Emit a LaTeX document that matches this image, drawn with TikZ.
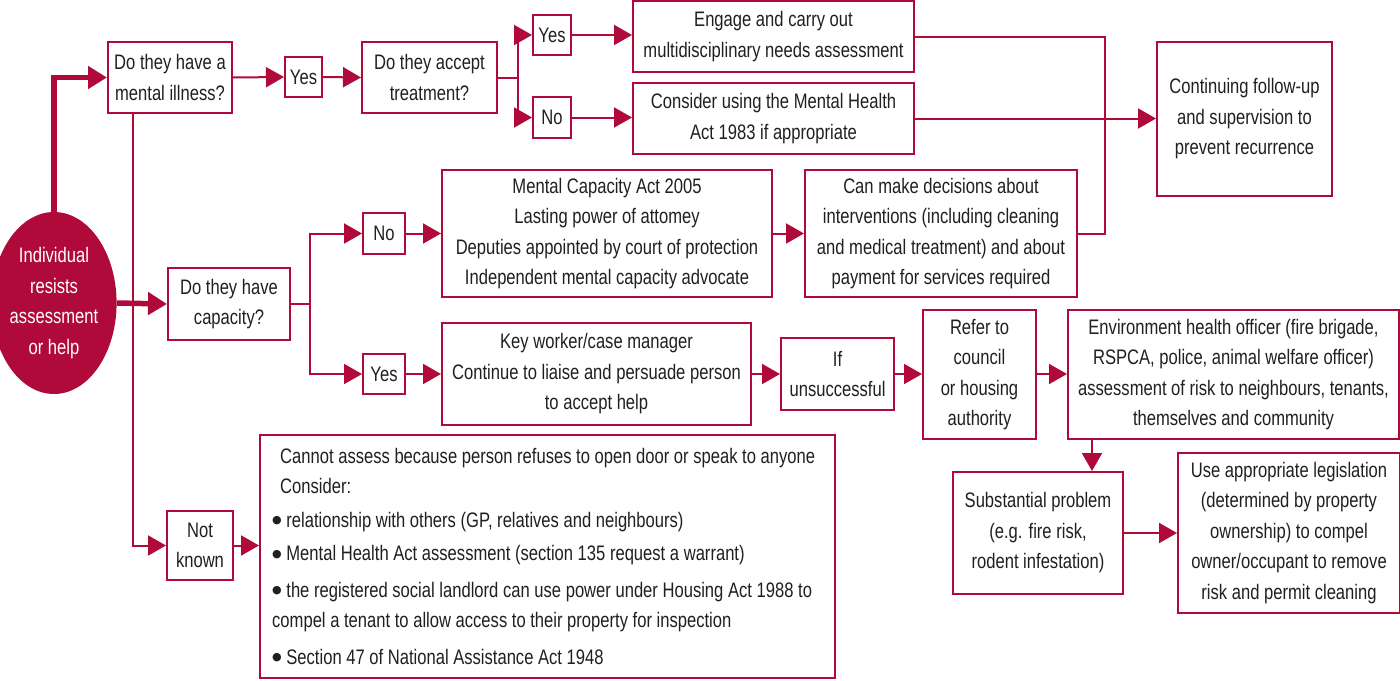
\documentclass[tikz,border=0pt]{standalone}
\usepackage{fontspec}
\setmainfont{Liberation Sans}[FakeStretch=0.79]
\newfontfamily\bulfont{DejaVu Sans}
\usetikzlibrary{arrows.meta,shapes.geometric}
\definecolor{crim}{HTML}{B00A3B}
\definecolor{ink}{HTML}{231F20}
\newcommand{\bul}{{\bulfont\fontsize{11}{30.5}\selectfont\raisebox{0.32em}{●}}}
\begin{document}
\begin{tikzpicture}[x=1pt,y=-1pt,
  txtfont/.style={font=\fontsize{21}{30.5}\selectfont, text=ink},
  box/.style={draw=crim, line width=2pt, fill=white, inner sep=0pt, align=center, txtfont},
  plain/.style={draw=crim, line width=2pt},
  conn/.style={draw=crim, line width=2pt, -{Triangle[length=18pt,width=20pt]}},
  bigconn/.style={draw=crim, line width=5.5pt, -{Triangle[length=19pt,width=22pt]}},
  startnode/.style={ellipse, fill=crim, draw=none, inner sep=0pt, align=center,
     font=\fontsize{21}{30.5}\selectfont, text=white}
]
\useasboundingbox (0,0) rectangle (1400,680);

% start
\node[startnode, minimum width=108, minimum height=182] (start) at (54,303)
  {Individual\\resists\\assessment\\or help};

% top branch
\node[box, minimum width=124, minimum height=71] (illness) at (170,77.5) {Do they have a\\mental illness?};
\node[box, minimum width=37, minimum height=40] (yes1) at (303.5,77) {Yes};
\node[box, minimum width=135, minimum height=71] (accept) at (429.5,77.5) {Do they accept\\treatment?};
\node[box, minimum width=38, minimum height=40] (yes2) at (552,35) {Yes};
\node[box, minimum width=38, minimum height=41] (no2) at (552,117.5) {No};
\node[box, minimum width=281, minimum height=71] (engage) at (773.5,36.5) {Engage and carry out\\multidisciplinary needs assessment};
\node[box, minimum width=281, minimum height=71] (consider) at (773.5,118.5) {Consider using the Mental Health\\Act 1983 if appropriate};
\node[box, minimum width=175, minimum height=154] (continuing) at (1244.5,119) {Continuing follow-up\\and supervision to\\prevent recurrence};

% middle branch
\node[box, minimum width=122, minimum height=72] (capacity) at (229,304) {Do they have\\capacity?};
\node[box, minimum width=42, minimum height=41] (no3) at (384,233.5) {No};
\node[box, minimum width=42, minimum height=40] (yes3) at (384,374) {Yes};
\node[box, minimum width=330, minimum height=127] (mca) at (607,233.5) {Mental Capacity Act 2005\\Lasting power of attomey\\Deputies appointed by court of protection\\Independent mental capacity advocate};
\node[box, minimum width=272, minimum height=127] (canmake) at (941,233.5) {Can make decisions about\\interventions (including cleaning\\and medical treatment) and about\\payment for services required};
\node[box, minimum width=309, minimum height=102] (keyworker) at (596.5,374) {Key worker/case manager\\Continue to liaise and persuade person\\to accept help};
\node[box, minimum width=113, minimum height=72] (ifun) at (837.5,374) {If\\unsuccessful};
\node[box, minimum width=113, minimum height=129] (refer) at (979.5,374.5) {Refer to\\council\\or housing\\authority};
\node[box, minimum width=331, minimum height=129] (env) at (1233.5,374.5) {Environment health officer (fire brigade,\\RSPCA, police, animal welfare officer)\\assessment of risk to neighbours, tenants,\\themselves and community};
\node[box, minimum width=170, minimum height=122] (subst) at (1038,533) {Substantial problem\\(e.g. fire risk,\\rodent infestation)};
\node[box, minimum width=222, minimum height=160] (uselaw) at (1289,533) {Use appropriate legislation\\(determined by property\\ownership) to compel\\owner/occupant to remove\\risk and permit cleaning};

% bottom branch
\node[box, minimum width=66, minimum height=69] (notknown) at (200,545.5) {Not\\known};
\node[box, minimum width=575, minimum height=243] (bigbox) at (547.5,556.5) {};
\node[txtfont, anchor=north west, align=left, inner sep=0pt] (bigtext) at (272,448)
  {\hspace*{8pt}Cannot assess because person refuses to open door or speak to anyone\\
   \hspace*{8pt}Consider:\\[3pt]
   \bul{} relationship with others (GP, relatives and neighbours)\\[3pt]
   \bul{} Mental Health Act assessment (section 135 request a warrant)\\[6pt]
   \bul{} the registered social landlord can use power under Housing Act 1988 to\\
   compel a tenant to allow access to their property for inspection\\[6pt]
   \bul{} Section 47 of National Assistance Act 1948};

% junction coordinates
\coordinate (split1) at (518,77.5);
\coordinate (split2) at (310,304);
\coordinate (drop1) at (133,113.5);
\coordinate (merge1) at (1105,36.5);

% connectors
\draw[bigconn] (start.north) |- (illness.west);
\draw[bigconn] (start.east) -- (capacity.west);
\draw[conn] (drop1) |- (notknown.west);
\draw[conn] (illness.east) -- (yes1.west);
\draw[conn] (yes1.east) -- (accept.west);
\draw[plain] (accept.east) -- (split1);
\draw[conn] (split1) |- (yes2.west);
\draw[conn] (split1) |- (no2.west);
\draw[conn] (yes2.east) -- (engage.west |- yes2.east);
\draw[conn] (no2.east) -- (consider.west |- no2.east);
\draw[conn] (consider.east) -- (continuing.west |- consider.east);
\draw[plain] (engage.east) -- (merge1) |- (canmake.east);
\draw[plain] (capacity.east) -- (split2);
\draw[conn] (split2) |- (no3.west);
\draw[conn] (split2) |- (yes3.west);
\draw[conn] (no3.east) -- (mca.west |- no3.east);
\draw[conn] (yes3.east) -- (keyworker.west |- yes3.east);
\draw[conn] (mca.east) -- (canmake.west);
\draw[conn] (keyworker.east) -- (ifun.west);
\draw[conn] (ifun.east) -- (refer.west |- ifun.east);
\draw[conn] (refer.east |- ifun.east) -- (env.west |- ifun.east);
\draw[conn] (env.south -| 1092,0) -- (subst.north -| 1092,0);
\draw[conn] (subst.east) -- (uselaw.west);
\draw[conn] (notknown.east) -- (bigbox.west |- notknown.east);
\end{tikzpicture}
\end{document}
